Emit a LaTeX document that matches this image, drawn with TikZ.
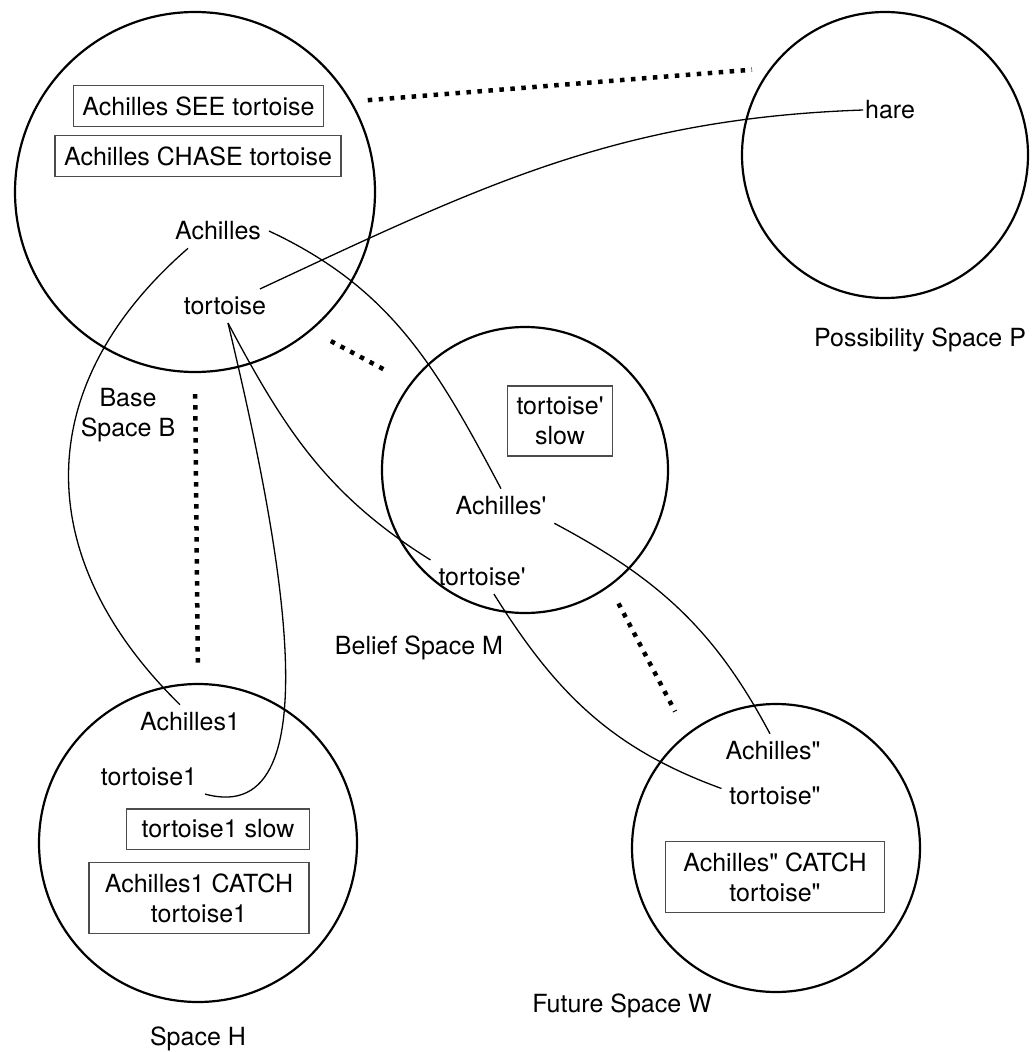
\documentclass[tikz,border=0pt]{standalone}
\usepackage{fontspec}
\setmainfont{TeX Gyre Heros}[Ligatures=TeXOff]
\usepackage{tikz}

\begin{document}
\begin{tikzpicture}[x=1pt, y=1pt,
  spacecircle/.style={circle, draw, line width=2.2pt, minimum size=#1, inner sep=0pt},
  word/.style={font=\fontsize{25}{30}\selectfont, inner sep=0pt, outer sep=8pt},
  fact/.style={draw=black!70, line width=1.6pt, font=\fontsize{25}{30}\selectfont, align=center, inner xsep=9pt, inner ysep=11pt},
  spacelabel/.style={font=\fontsize{25}{30}\selectfont, align=center},
  link/.style={line width=1.3pt},
  mapdots/.style={line width=4.5pt, dash pattern=on 4.5pt off 6.5pt}
]
\useasboundingbox (0,0) rectangle (1033,-1052);

% mental spaces
\node[spacecircle=360pt] (B) at (195,-192) {};
\node[spacecircle=286pt] (P) at (885,-155) {};
\node[spacecircle=286pt] (M) at (525,-470) {};
\node[spacecircle=318pt] (H) at (198,-843) {};
\node[spacecircle=288pt] (W) at (776,-848) {};

\node[spacelabel] (labB) at (128,-415) {Base\\Space B};
\node[spacelabel] (labP) at (920,-340) {Possibility Space P};
\node[spacelabel] (labM) at (419,-648) {Belief Space M};
\node[spacelabel] (labH) at (198,-1039) {Space H};
\node[spacelabel] (labW) at (622,-1006) {Future Space W};

% frames
\node[fact] (see) at (198.5,-106) {Achilles SEE tortoise};
\node[fact] (chase) at (198,-156) {Achilles CHASE tortoise};
\node[fact] (slowM) at (560,-421) {tortoise'\\slow};
\node[fact, inner xsep=15pt] (slowH) at (218,-829) {tortoise1 slow};
\node[fact, inner xsep=16pt] (catchH) at (199,-898) {Achilles1 CATCH\\tortoise1};
\node[fact, inner xsep=18pt] (catchW) at (775,-877) {Achilles" CATCH\\tortoise"};

% elements
\node[word] (aB) at (218,-231) {Achilles};
\node[word] (tB) at (225,-306) {tortoise};
\node[word, outer sep=2pt] (hare) at (890,-110) {hare};
\node[word] (aM) at (501,-506) {Achilles'};
\node[word] (tM) at (482,-577) {tortoise'};
\node[word] (aH) at (190,-722) {Achilles1};
\node[word] (tH) at (149,-777) {tortoise1};
\node[word] (aW) at (773,-751) {Achilles"};
\node[word] (tW) at (775,-796) {tortoise"};

% counterpart links
\draw[link] (tB.26) to[out=25, in=182] (hare.west);
\draw[link] (aB.east) to[out=-25, in=118] (aM.north);
\draw[link] (aB.-150) .. controls +(-163,-142) and +(-145,142) .. (aH.120);
\draw[link] (tB.-80) .. controls +(47,-197) and +(135,-37) .. (tH.south east);
\draw[link] (tB.-80) to[out=-62, in=148] (tM.north west);
\draw[link] (aM.south east) to[out=-28, in=118] (aW.100);
\draw[link] (tM.-55) to[out=-58, in=160] (tW.172);

% space connectors
\draw[mapdots, shorten <=16pt, shorten >=18pt] (B.30) -- (P.143);
\draw[mapdots, shorten <=22pt, shorten >=30pt] (B.-50) -- (M.143);
\draw[mapdots, shorten <=21pt, shorten >=19pt] (B.-90) -- (H.90);
\draw[mapdots, shorten <=19pt, shorten >=25pt] (M.-54) -- (W.128);

\end{tikzpicture}
\end{document}
